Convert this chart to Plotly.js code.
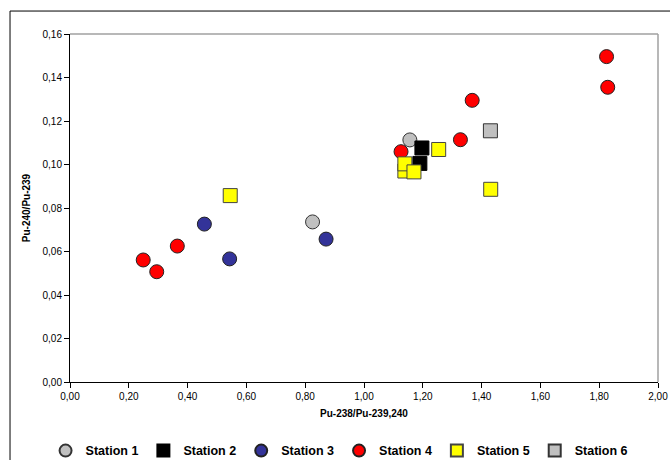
<!DOCTYPE html>
<html>
<head>
<meta charset="utf-8">
<script src="https://cdn.plot.ly/plotly-3.0.1.min.js"></script>
<style>html,body{margin:0;padding:0;background:#fff;}#chart{width:670px;height:460px;}</style>
</head>
<body>
<div id="chart"></div>
<script>
// Station data: x = Pu-238/Pu-239,240, y = Pu-240/Pu-239
const station1X = [0.825, 1.156];
const station1Y = [0.0736, 0.1113];
const station2X = [1.197, 1.190];
const station2Y = [0.1076, 0.1005];
const station3X = [0.457, 0.543, 0.871];
const station3Y = [0.0726, 0.0566, 0.0657];
const station4X = [0.249, 0.295, 0.365, 1.126, 1.328, 1.368, 1.825, 1.829];
const station4Y = [0.0561, 0.0507, 0.0625, 0.1059, 0.1114, 0.1295, 0.1496, 0.1355];
const station5X = [0.545, 1.139, 1.139, 1.170, 1.254, 1.431];
const station5Y = [0.0857, 0.0970, 0.1003, 0.0966, 0.1069, 0.0886];
const station6X = [1.430];
const station6Y = [0.1155];
const names = ["Station 1", "Station 2", "Station 3", "Station 4", "Station 5", "Station 6"];
const xTicks = [0, 0.2, 0.4, 0.6, 0.8, 1.0, 1.2, 1.4, 1.6, 1.8, 2.0];
const yTicks = [0, 0.02, 0.04, 0.06, 0.08, 0.10, 0.12, 0.14, 0.16];

function tr(x, y, name, symbol, color, lineColor) {
  return {
    x: x, y: y, name: name, type: "scatter", mode: "markers",
    marker: {symbol: symbol, size: 14, color: color, line: {color: lineColor, width: 1}}
  };
}
const data = [
  tr(station1X, station1Y, names[0], "circle", "#C0C0C0", "#333333"),
  tr(station2X, station2Y, names[1], "square", "#000000", "#000000"),
  tr(station3X, station3Y, names[2], "circle", "#333399", "#222222"),
  tr(station4X, station4Y, names[3], "circle", "#FF0000", "#222222"),
  tr(station5X, station5Y, names[4], "square", "#FFFF00", "#444444"),
  tr(station6X, station6Y, names[5], "square", "#C0C0C0", "#333333")
];

const FAM = "Liberation Sans, Arial, sans-serif";
const layout = {
  width: 670, height: 460,
  margin: {l: 70, r: 12, t: 34, b: 78},
  paper_bgcolor: "#fff", plot_bgcolor: "#fff",
  separators: ", ",
  font: {family: FAM, size: 10, color: "#000"},
  showlegend: true,
  legend: {
    orientation: "h", xref: "container", yref: "container",
    x: 0.068, xanchor: "left", y: 0.0196, yanchor: "middle",
    font: {family: FAM, size: 12.5, color: "#000", weight: "bold"},
    itemwidth: 30, tracegroupgap: 0, bgcolor: "rgba(0,0,0,0)", itemsizing: "constant"
  },
  xaxis: {
    range: [0, 2], tickvals: xTicks, tickformat: ".2f", automargin: false,
    showgrid: false, zeroline: false, showline: true, linecolor: "#000", linewidth: 1,
    ticks: "outside", ticklen: 5, tickcolor: "#000",
    tickfont: {family: FAM, size: 10, color: "#000"},
    title: {text: "Pu-238/Pu-239,240", standoff: 8,
      font: {family: FAM, size: 10, color: "#000", weight: "bold"}}
  },
  yaxis: {
    range: [0, 0.16], tickvals: yTicks, tickformat: ".2f", automargin: false,
    showgrid: false, zeroline: false, showline: true, linecolor: "#000", linewidth: 1,
    ticks: "outside", ticklen: 5, tickcolor: "#000",
    tickfont: {family: FAM, size: 10, color: "#000"},
    title: {text: "Pu-240/Pu-239", standoff: 10,
      font: {family: FAM, size: 10, color: "#000", weight: "bold"}}
  },
  shapes: [
    {type: "line", xref: "paper", yref: "paper", x0: 0, x1: 1, y0: 1, y1: 1, line: {color: "#A0A0A0", width: 1.5}},
    {type: "line", xref: "paper", yref: "paper", x0: 1, x1: 1, y0: 0, y1: 1, line: {color: "#A0A0A0", width: 1.5}},
    {type: "rect", xref: "paper", yref: "paper", x0: -0.102, x1: 1.05, y0: -0.25, y1: 1.066, line: {color: "#000", width: 1}}
  ]
};
Plotly.newPlot("chart", data, layout, {displayModeBar: false, staticPlot: true});
</script>
</body>
</html>
